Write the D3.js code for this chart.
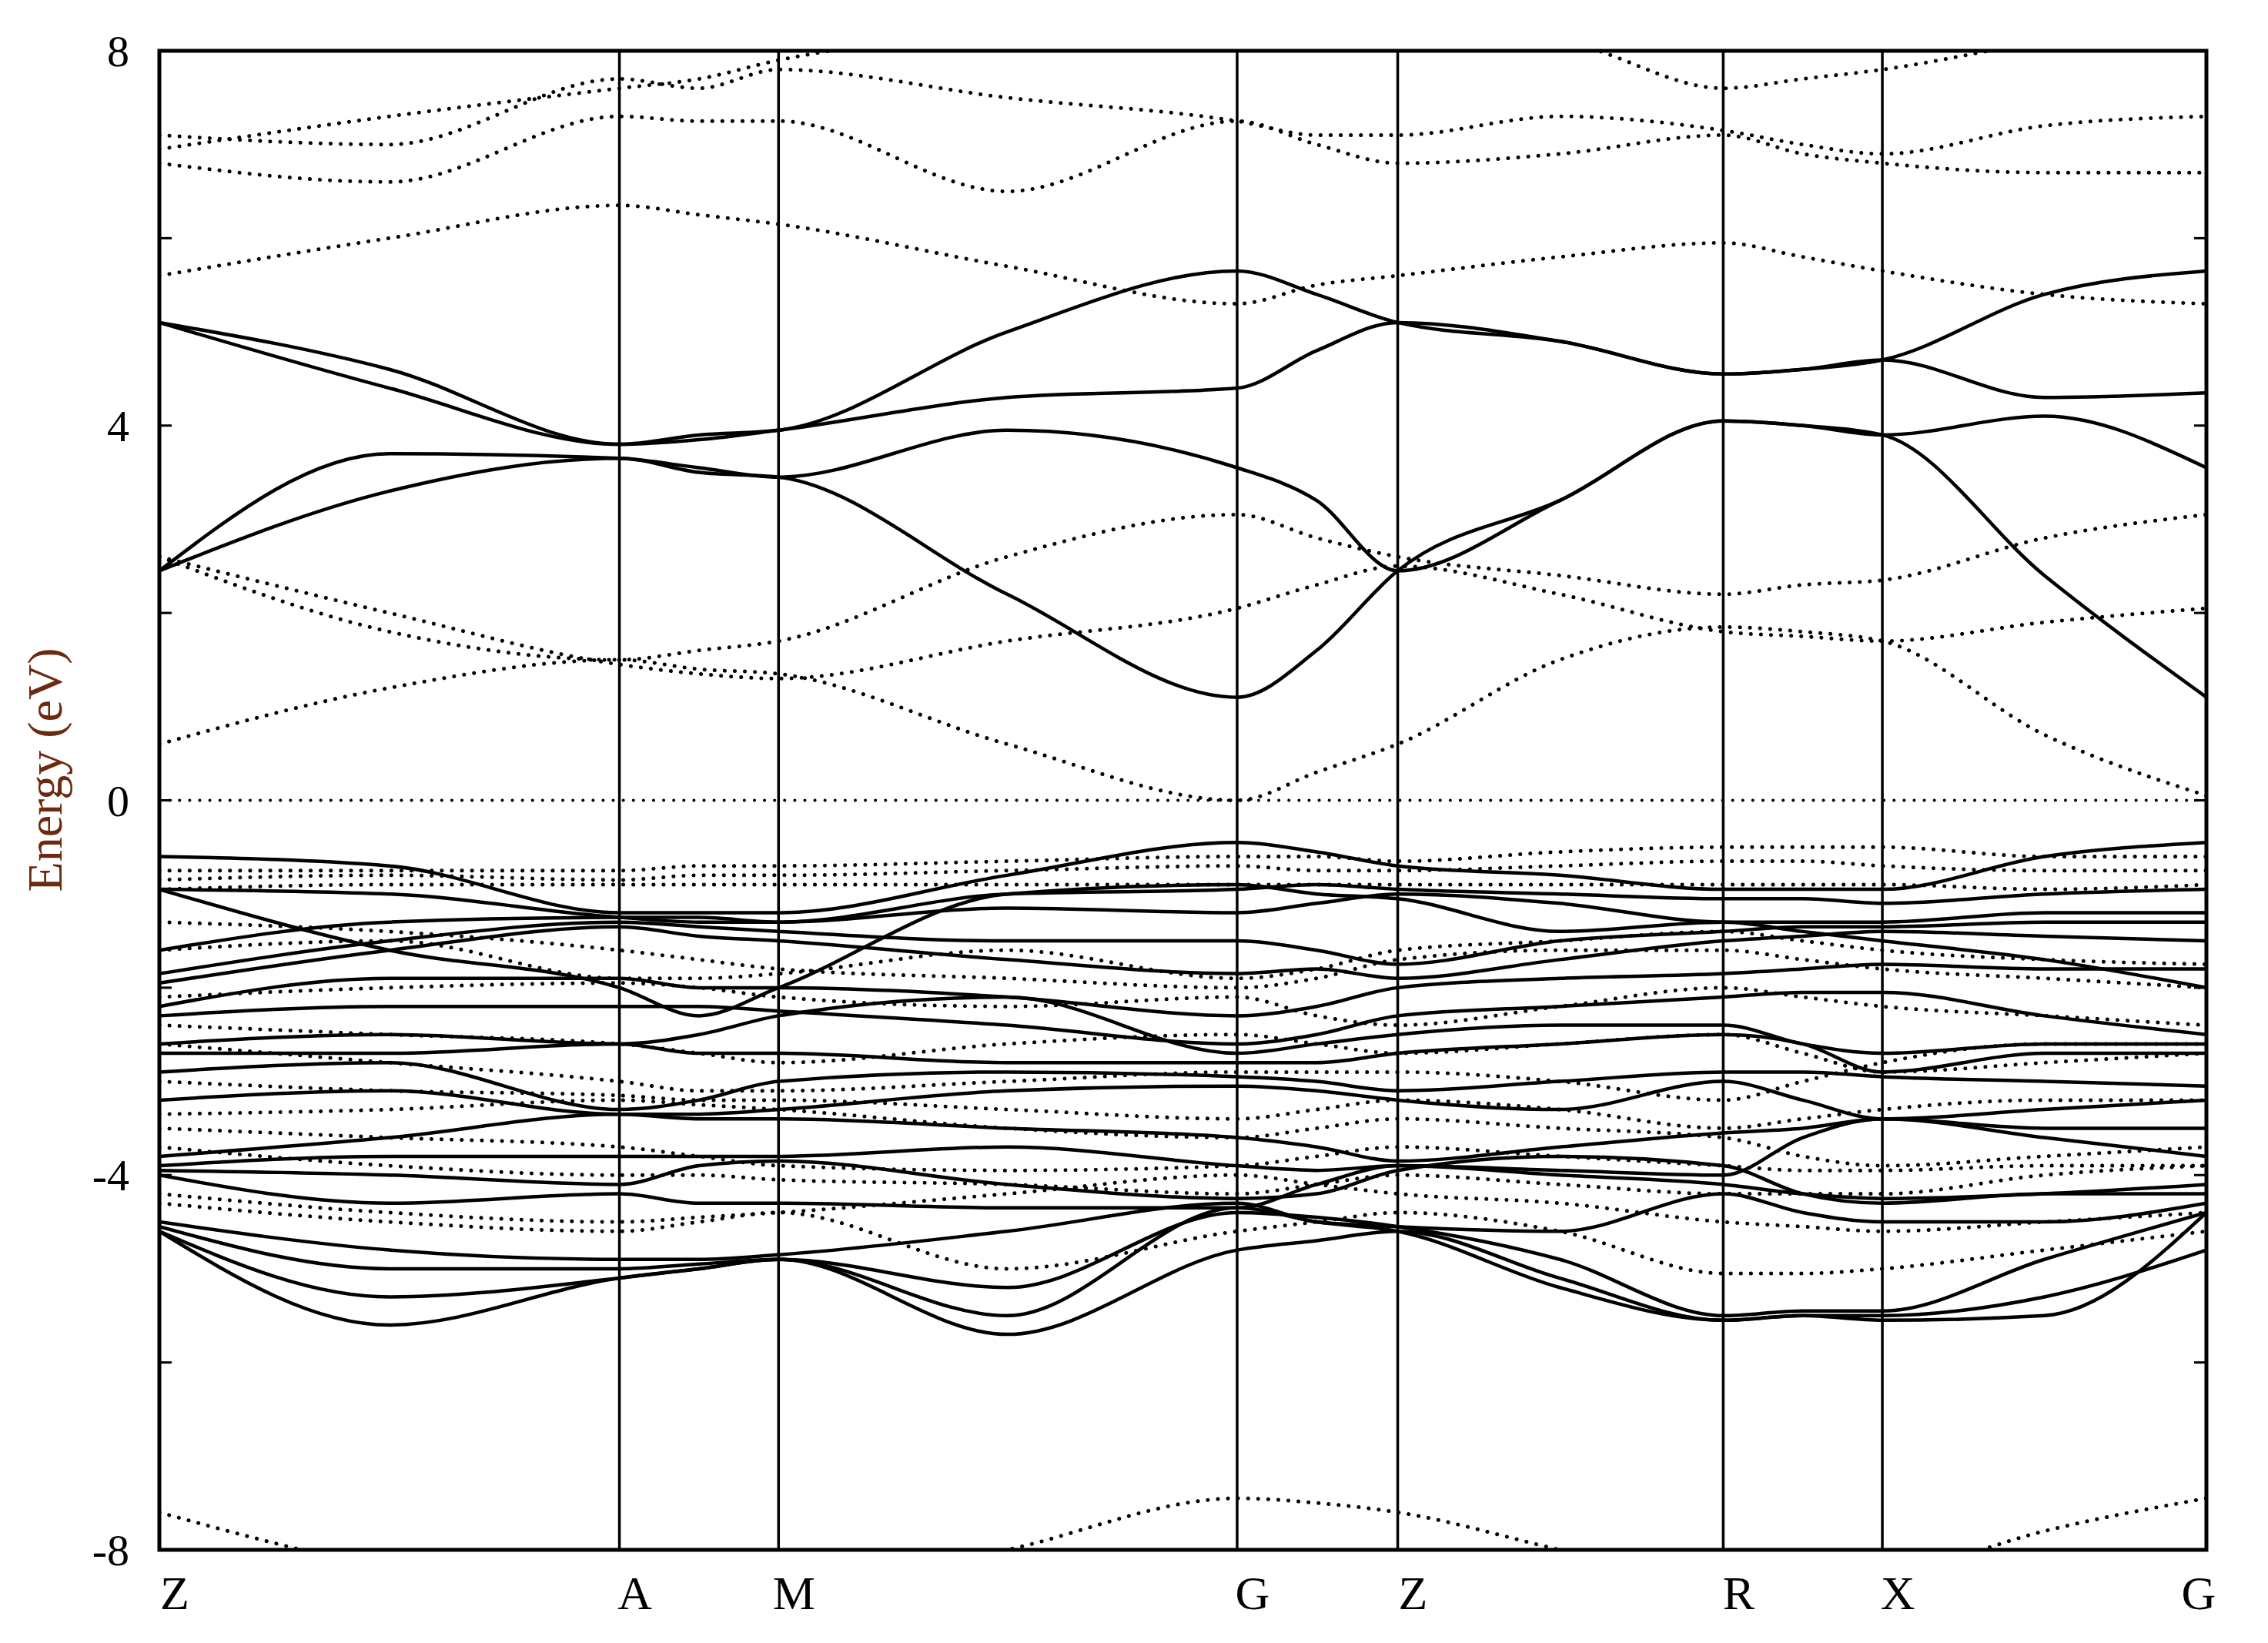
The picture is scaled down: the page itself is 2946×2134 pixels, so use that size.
<!DOCTYPE html>
<html><head><meta charset="utf-8">
<script src="https://cdn.jsdelivr.net/npm/d3@7"></script>
<style>body{margin:0;background:#fff}text{font-family:"Liberation Serif","Times New Roman",serif}</style>
</head><body><svg id="c" width="2946" height="2134"></svg>
<script>
const kLabels=["Z","A","M","G","Z","R","X","G"];
const kPos=[0,318,428,745,856,1081,1191,1415];
const kSamples=[0,159,318,373,428,586,745,800,856,968,1081,1136,1191,1303,1415];
const yTicks=[-8,-6,-4,-2,0,2,4,6,8];
const yLabels=[-8,-4,0,4,8];
const solidBands=[
[5.1,4.6,3.8,3.9,3.95,5.0,5.65,5.4,5.1,4.9,4.55,4.6,4.7,5.4,5.65],
[5.1,4.4,3.8,3.85,3.95,4.3,4.4,4.8,5.1,4.9,4.55,4.6,4.7,4.3,4.35],
[2.45,3.7,3.65,3.55,3.45,3.95,3.55,3.2,2.45,3.2,4.05,4.0,3.9,4.1,3.55],
[2.45,3.3,3.65,3.5,3.45,2.2,1.1,1.6,2.45,3.2,4.05,4.0,3.9,2.4,1.1],
[-0.6,-0.7,-1.2,-1.2,-1.2,-0.8,-0.45,-0.55,-0.7,-0.8,-0.95,-0.95,-0.95,-0.6,-0.45],
[-0.95,-1.0,-1.25,-1.3,-1.3,-1.0,-0.95,-0.9,-0.95,-1.0,-1.05,-1.05,-1.1,-1.0,-0.95],
[-1.6,-1.3,-1.25,-1.25,-1.3,-1.15,-1.2,-1.1,-1.0,-1.1,-1.3,-1.3,-1.3,-1.2,-1.2],
[-1.85,-1.5,-1.3,-1.35,-1.4,-1.5,-1.5,-1.6,-1.75,-1.5,-1.4,-1.35,-1.35,-1.3,-1.3],
[-1.95,-1.6,-1.35,-1.45,-1.5,-1.7,-1.85,-1.8,-1.9,-1.7,-1.5,-1.45,-1.4,-1.45,-1.5],
[-2.2,-1.9,-1.9,-2.0,-2.0,-2.1,-2.3,-2.2,-2.0,-1.9,-1.85,-1.8,-1.75,-1.8,-1.8],
[-2.3,-2.2,-2.2,-2.2,-2.25,-2.4,-2.6,-2.5,-2.3,-2.2,-2.1,-2.05,-2.05,-2.3,-2.5],
[-2.6,-2.5,-2.6,-2.5,-2.3,-2.1,-2.7,-2.6,-2.5,-2.4,-2.4,-2.6,-2.7,-2.6,-2.6],
[-2.7,-2.7,-2.6,-2.7,-2.7,-2.8,-2.8,-2.8,-2.7,-2.6,-2.5,-2.6,-2.9,-2.7,-2.7],
[-2.9,-2.8,-3.3,-3.2,-3.0,-2.9,-2.95,-3.0,-3.1,-3.0,-2.9,-2.9,-2.95,-3.0,-3.05],
[-3.2,-3.1,-3.35,-3.35,-3.3,-3.1,-3.05,-3.1,-3.2,-3.3,-3.0,-3.2,-3.4,-3.3,-3.2],
[-3.8,-3.6,-3.35,-3.4,-3.4,-3.5,-3.6,-3.7,-3.85,-3.7,-3.55,-3.5,-3.4,-3.5,-3.5],
[-3.9,-3.8,-3.8,-3.8,-3.8,-3.7,-3.9,-3.95,-3.9,-3.95,-4.0,-3.6,-3.4,-3.6,-3.8],
[-3.95,-4.0,-4.1,-3.9,-3.85,-4.1,-4.25,-4.2,-3.95,-3.8,-3.9,-4.2,-4.3,-4.2,-4.2],
[-4.0,-4.3,-4.2,-4.3,-4.3,-4.35,-4.35,-4.1,-3.9,-4.0,-4.1,-4.2,-4.25,-4.2,-4.1],
[-4.5,-4.8,-4.9,-4.9,-4.85,-4.6,-4.3,-4.5,-4.55,-4.6,-4.2,-4.4,-4.5,-4.5,-4.3],
[-4.55,-5.0,-5.0,-4.95,-4.9,-5.2,-4.4,-4.45,-4.55,-4.9,-5.5,-5.45,-5.45,-4.9,-4.4],
[-4.6,-5.3,-5.1,-5.0,-4.9,-5.7,-4.8,-4.7,-4.6,-5.1,-5.55,-5.5,-5.5,-5.3,-4.8],
[-4.6,-5.6,-5.1,-5.0,-4.9,-5.5,-4.35,-4.5,-4.6,-5.2,-5.55,-5.5,-5.55,-5.5,-4.4],
[-0.95,-1.6,-2.0,-2.3,-2.0,-1.0,-0.9,-1.0,-1.05,-1.4,-1.3,-1.4,-1.5,-1.7,-2.0]
];
const dottedBands=[
[0.6,1.2,1.5,1.4,1.35,0.6,0.0,0.3,0.6,1.5,1.85,1.8,1.7,0.7,0.05],
[2.6,1.8,1.5,1.6,1.7,2.6,3.05,2.8,2.6,2.4,2.2,2.3,2.35,2.8,3.05],
[2.6,2.0,1.45,1.35,1.3,1.7,2.05,2.3,2.5,2.2,1.8,1.75,1.7,1.9,2.05],
[5.6,6.0,6.35,6.25,6.15,5.7,5.3,5.5,5.6,5.8,5.95,5.8,5.65,5.4,5.3],
[6.8,6.6,7.3,7.25,7.25,6.5,7.25,7.0,6.8,6.9,7.1,6.9,6.8,6.7,6.7],
[7.1,7.0,7.7,7.6,7.8,7.5,7.25,7.1,7.1,7.3,7.15,7.0,6.9,7.2,7.3],
[6.95,7.3,7.6,7.7,7.9,8.2,8.3,8.25,8.2,8.1,7.6,7.7,7.8,8.1,8.3],
[-7.6,-8.2,-8.5,-8.5,-8.5,-8.0,-7.45,-7.5,-7.6,-8.0,-8.4,-8.4,-8.3,-7.8,-7.45],
[-0.75,-0.75,-0.75,-0.7,-0.7,-0.65,-0.6,-0.6,-0.65,-0.55,-0.5,-0.5,-0.5,-0.6,-0.6],
[-0.85,-0.8,-0.85,-0.8,-0.8,-0.75,-0.7,-0.75,-0.75,-0.7,-0.65,-0.65,-0.7,-0.75,-0.75],
[-0.95,-0.9,-0.9,-0.9,-0.9,-0.9,-0.9,-0.9,-0.9,-0.9,-0.9,-0.9,-0.9,-0.95,-0.9],
[-1.6,-1.5,-1.9,-1.9,-1.85,-1.6,-1.9,-1.8,-1.6,-1.5,-1.4,-1.5,-1.6,-1.7,-1.75],
[-2.1,-2.0,-1.95,-2.0,-2.1,-2.2,-2.1,-2.3,-2.4,-2.2,-2.0,-2.1,-2.2,-2.3,-2.4],
[-2.4,-2.5,-2.6,-2.7,-2.8,-2.6,-2.5,-2.6,-2.7,-2.6,-2.5,-2.7,-2.9,-2.8,-2.7],
[-3.0,-3.1,-3.15,-3.2,-3.2,-3.3,-3.4,-3.3,-3.2,-3.3,-3.5,-3.4,-3.3,-3.2,-3.2],
[-3.35,-3.3,-3.2,-3.25,-3.3,-3.5,-3.6,-3.5,-3.4,-3.5,-3.6,-3.8,-3.9,-3.8,-3.7],
[-3.5,-3.6,-3.7,-3.8,-3.9,-3.95,-3.9,-3.8,-3.7,-3.8,-3.9,-3.95,-3.95,-3.9,-3.9],
[-4.2,-4.4,-4.5,-4.45,-4.4,-4.2,-4.0,-4.1,-4.2,-4.3,-4.5,-4.55,-4.6,-4.5,-4.4],
[-4.3,-4.5,-4.6,-4.5,-4.4,-5.0,-4.6,-4.5,-4.4,-4.6,-5.05,-5.05,-5.0,-4.8,-4.6],
[-3.7,-3.9,-4.0,-4.0,-4.05,-4.1,-4.2,-4.1,-4.0,-4.1,-4.2,-4.2,-4.2,-4.0,-3.9],
[-1.3,-1.4,-1.6,-1.7,-1.8,-1.9,-2.0,-1.9,-1.7,-1.6,-1.6,-1.7,-1.8,-1.9,-2.0],
[-2.6,-2.8,-3.0,-3.1,-3.1,-3.0,-2.9,-2.9,-2.9,-3.0,-3.2,-3.0,-2.8,-2.6,-2.6]
];
const fermi=[0,0];

const L=207,R=2866,T=66,B=2013;
const svg=d3.select("#c");
const x=d3.scaleLinear().domain([0,1415]).range([L,R]);
const y=d3.scaleLinear().domain([-8,8]).range([B,T]);
svg.append("clipPath").attr("id","cp").append("rect").attr("x",L).attr("y",T).attr("width",R-L).attr("height",B-T);
const g=svg.append("g").attr("clip-path","url(#cp)");
const line=d3.line().x((d,i)=>x(kSamples[i])).y(d=>y(d)).curve(d3.curveMonotoneX);
g.selectAll(".d").data(dottedBands).join("path").attr("d",line).attr("fill","none").attr("stroke","#000")
 .attr("stroke-width",5).attr("stroke-linecap","round").attr("stroke-dasharray","0.1,13");
g.append("line").attr("x1",x(0)).attr("x2",x(1415)).attr("y1",y(fermi[0])).attr("y2",y(fermi[1]))
 .attr("stroke","#000").attr("stroke-width",4).attr("stroke-linecap","round").attr("stroke-dasharray","0.1,13");
g.selectAll(".s").data(solidBands).join("path").attr("d",line).attr("fill","none").attr("stroke","#000").attr("stroke-width",4.5);
kPos.slice(1,-1).forEach(k=>svg.append("line").attr("x1",x(k)).attr("x2",x(k)).attr("y1",T).attr("y2",B).attr("stroke","#000").attr("stroke-width",3.5));
svg.append("rect").attr("x",L).attr("y",T).attr("width",R-L).attr("height",B-T).attr("fill","none").attr("stroke","#000").attr("stroke-width",5);
yTicks.forEach(t=>{
 svg.append("line").attr("x1",L).attr("x2",L+16).attr("y1",y(t)).attr("y2",y(t)).attr("stroke","#000").attr("stroke-width",3);
 svg.append("line").attr("x1",R-16).attr("x2",R).attr("y1",y(t)).attr("y2",y(t)).attr("stroke","#000").attr("stroke-width",3);
});
yLabels.forEach(t=>svg.append("text").attr("x",168).attr("y",y(t)+20).attr("text-anchor","end").attr("font-size",58).text(t));
kLabels.forEach((l,i)=>svg.append("text").attr("x",x(kPos[i])+(i==kLabels.length-1?-10:20)).attr("y",2090).attr("text-anchor","middle").attr("font-size",62).text(l));
svg.append("text").attr("transform","translate(80,1000) rotate(-90)").attr("text-anchor","middle").attr("font-size",64).attr("fill","#6b2a10").text("Energy (eV)");
</script></body></html>
